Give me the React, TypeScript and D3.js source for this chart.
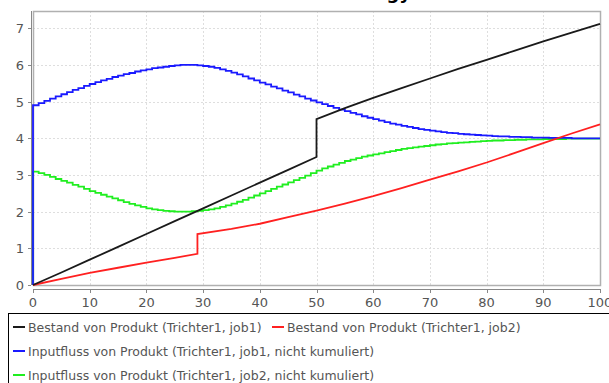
import React from 'react';
import * as d3 from 'd3';

// time axis 0..100, one step per time unit for the flows
const steps = d3.range(0, 101);

// Bestand von Produkt (Trichter1, job1) - jumps at t=50
const bestand1Times = [0, 5, 10, 15, 20, 25, 30, 35, 40, 45, 50, 50, 55, 60, 65, 70, 75, 80, 85, 90, 95, 100];
const bestand1Values = [0, 0.34, 0.69, 1.04, 1.39, 1.74, 2.09, 2.44, 2.79, 3.14, 3.49, 4.52, 4.82, 5.1, 5.37, 5.63, 5.89, 6.14, 6.39, 6.64, 6.88, 7.12];

// Bestand von Produkt (Trichter1, job2) - jumps at t=29
const bestand2Times = [0, 5, 10, 15, 20, 25, 29, 29, 35, 40, 45, 50, 55, 60, 65, 70, 75, 80, 85, 90, 95, 100];
const bestand2Values = [0, 0.17, 0.33, 0.47, 0.61, 0.74, 0.85, 1.39, 1.53, 1.67, 1.85, 2.03, 2.22, 2.42, 2.64, 2.87, 3.1, 3.34, 3.6, 3.87, 4.13, 4.38];

// flows start at 0 before the first step
const inputStart = 0;

// Inputfluss von Produkt (Trichter1, job1, nicht kumuliert)
const input1Values = [
  4.9, 4.96, 5.02, 5.08, 5.14, 5.2, 5.26, 5.32, 5.37, 5.43, 5.48, 5.53, 5.58, 5.62, 5.67, 5.71, 5.75, 5.78, 5.82, 5.85,
  5.88, 5.91, 5.93, 5.95, 5.97, 5.99, 6.0, 6.0, 6.0, 5.99, 5.97, 5.95, 5.92, 5.88, 5.84, 5.79, 5.74, 5.69, 5.63, 5.58,
  5.52, 5.47, 5.41, 5.36, 5.3, 5.25, 5.19, 5.14, 5.08, 5.03, 4.98, 4.93, 4.88, 4.83, 4.78, 4.74, 4.69, 4.65, 4.6, 4.56,
  4.52, 4.48, 4.44, 4.4, 4.37, 4.34, 4.31, 4.28, 4.25, 4.23, 4.21, 4.19, 4.17, 4.15, 4.14, 4.12, 4.11, 4.1, 4.09, 4.08,
  4.07, 4.06, 4.05, 4.05, 4.04, 4.04, 4.03, 4.03, 4.02, 4.02, 4.02, 4.01, 4.01, 4.01, 4.01, 4.0, 4.0, 4.0, 4.0, 4.0, 4.0
];

// Inputfluss von Produkt (Trichter1, job2, nicht kumuliert)
const input2Values = [
  3.09, 3.05, 3.0, 2.95, 2.89, 2.84, 2.79, 2.73, 2.68, 2.62, 2.56, 2.51, 2.46, 2.41, 2.36, 2.31, 2.26, 2.21, 2.17, 2.13,
  2.09, 2.06, 2.04, 2.02, 2.01, 2.0, 2.0, 2.0, 2.01, 2.02, 2.04, 2.06, 2.09, 2.13, 2.17, 2.22, 2.27, 2.32, 2.38, 2.44,
  2.5, 2.56, 2.62, 2.68, 2.74, 2.8, 2.86, 2.92, 2.98, 3.05, 3.12, 3.18, 3.23, 3.28, 3.33, 3.38, 3.42, 3.46, 3.5, 3.53,
  3.56, 3.59, 3.62, 3.65, 3.68, 3.71, 3.73, 3.75, 3.77, 3.79, 3.81, 3.83, 3.84, 3.86, 3.87, 3.88, 3.89, 3.9, 3.91, 3.92,
  3.93, 3.94, 3.94, 3.95, 3.95, 3.96, 3.96, 3.97, 3.97, 3.97, 3.98, 3.98, 3.98, 3.98, 3.99, 3.99, 3.99, 3.99, 3.99, 3.99, 3.99
];

const xTicks = [0, 10, 20, 30, 40, 50, 60, 70, 80, 90, 100];
const yTicks = [0, 1, 2, 3, 4, 5, 6, 7];

const labels = [
  'Bestand von Produkt (Trichter1, job1)',
  'Bestand von Produkt (Trichter1, job2)',
  'Inputfluss von Produkt (Trichter1, job1, nicht kumuliert)',
  'Inputfluss von Produkt (Trichter1, job2, nicht kumuliert)'
];
const colors = ['#1a1a1a', '#ff2020', '#1a1aff', '#20ee20'];

const W = 609;
const H = 383;
const font = '"DejaVu Sans", Verdana, sans-serif';

export default function App() {
  const left = 33;
  const right = 600;
  const top = 11;
  const bottom = 285;

  const x = d3.scaleLinear().domain([0, 100]).range([left, right]);
  const y = d3.scaleLinear().domain([0, 7.47]).range([bottom, top]);

  const toPts = (ts, vs) => ts.map((t, i) => [t, vs[i]]);
  const flowPts = vs => [[0, inputStart], ...steps.map((t, i) => [t, vs[i]])];

  const lin = d3.line().x(d => x(d[0])).y(d => y(d[1]));
  const step = d3.line().x(d => x(d[0])).y(d => y(d[1])).curve(d3.curveStepAfter);

  // drawn in reverse order like the original (first series on top)
  const series = [
    { d: step(flowPts(input2Values)), c: colors[3] },
    { d: step(flowPts(input1Values)), c: colors[2] },
    { d: lin(toPts(bestand2Times, bestand2Values)), c: colors[1] },
    { d: lin(toPts(bestand1Times, bestand1Values)), c: colors[0] }
  ];

  // legend layout: first row has two entries
  const legend = [
    { x: 13, y: 327, i: 0 },
    { x: 272, y: 327, i: 1 },
    { x: 13, y: 351, i: 2 },
    { x: 13, y: 375, i: 3 }
  ];

  return (
    <div style={{ position: 'absolute', left: 0, top: 0 }}>
      <svg width={W} height={H} style={{ display: 'block', fontFamily: font }}>
        <rect x={0} y={0} width={W} height={H} fill="white" />
        {/* title, mostly cut off at the top */}
        <text x={411} y={-1} textAnchor="end" fontSize={18} fontWeight="bold" fill="#000">
          Simulation Strategy
        </text>

        {/* grid */}
        {xTicks.slice(1, -1).map(t => (
          <line key={'gx' + t} x1={Math.round(x(t)) + 0.5} x2={Math.round(x(t)) + 0.5} y1={top} y2={bottom}
            stroke="#dedede" strokeDasharray="2,2" />
        ))}
        {yTicks.slice(1).map(t => (
          <line key={'gy' + t} x1={left} x2={right} y1={Math.round(y(t)) + 0.5} y2={Math.round(y(t)) + 0.5}
            stroke="#dedede" strokeDasharray="2,2" />
        ))}

        {/* plot border */}
        <rect x={left + 0.5} y={top + 0.5} width={right - left} height={bottom - top}
          fill="none" stroke="#b0b0b0" strokeWidth={1.5} />

        {/* series */}
        {series.map((s, i) => (
          <path key={i} d={s.d} fill="none" stroke={s.c} strokeWidth={1.8} strokeLinejoin="miter" />
        ))}

        {/* y axis */}
        <line x1={31.5} x2={31.5} y1={top} y2={bottom} stroke="#888" />
        {yTicks.map(t => (
          <g key={'yt' + t}>
            <line x1={28} x2={31} y1={Math.round(y(t)) + 0.5} y2={Math.round(y(t)) + 0.5} stroke="#888" />
            <text x={24} y={y(t) + 5} textAnchor="end" fontSize={13} fill="#555">{t}</text>
          </g>
        ))}

        {/* x axis */}
        <line x1={left} x2={right} y1={289.5} y2={289.5} stroke="#888" />
        {xTicks.map(t => (
          <g key={'xt' + t}>
            <line x1={Math.round(x(t)) + 0.5} x2={Math.round(x(t)) + 0.5} y1={289} y2={293} stroke="#888" />
            <text x={x(t)} y={307} textAnchor="middle" fontSize={13} fill="#555">{t}</text>
          </g>
        ))}

        {/* legend box */}
        <line x1={8} x2={W} y1={313.5} y2={313.5} stroke="#000" />
        <line x1={8.5} x2={8.5} y1={313} y2={H} stroke="#000" />
        {legend.map(e => (
          <g key={'lg' + e.i}>
            <line x1={e.x} x2={e.x + 12} y1={e.y} y2={e.y} stroke={colors[e.i]} strokeWidth={2} />
            <text x={e.x + 15} y={e.y + 5} fontSize={12.5} fill="#555">{labels[e.i]}</text>
          </g>
        ))}
      </svg>
    </div>
  );
}
